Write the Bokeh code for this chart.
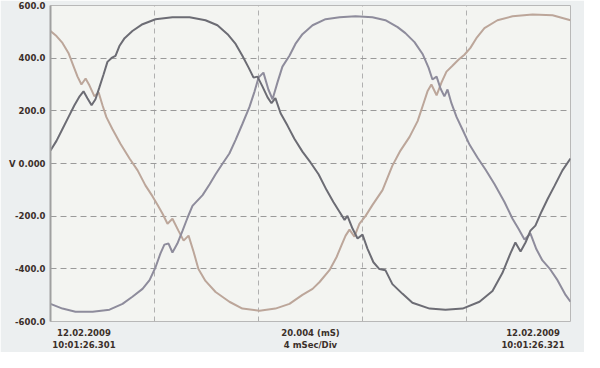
from bokeh.plotting import figure
from bokeh.models import Range1d, FixedTicker, LinearAxis
from bokeh.embed import file_html
from bokeh.resources import INLINE

# Time (ms) and voltage (V) samples
phase_a_t = [0, 0.23, 0.46, 0.69, 0.92, 1.12, 1.27, 1.42, 1.58, 1.73, 1.88, 2.04, 2.19, 2.35, 2.50,
             2.65, 2.85, 3.15, 3.54, 4.04, 4.69, 5.35, 5.96, 6.42, 6.81, 7.12, 7.38, 7.62, 7.81,
             7.96, 8.15, 8.35, 8.50, 8.65, 8.85, 9.12, 9.38, 9.69, 10.0, 10.31, 10.62, 10.88,
             11.12, 11.31, 11.42, 11.62, 11.81, 12.0, 12.19, 12.42, 12.65, 12.88, 13.15, 13.54,
             13.92, 14.58, 15.19, 15.85, 16.50, 17.0, 17.38, 17.69, 17.88, 18.08, 18.27, 18.46,
             18.65, 18.88, 19.12, 19.38, 19.69, 20.0]
phase_a_v = [49, 86, 131, 176, 221, 255, 274, 248, 221, 244, 289, 338, 386, 401, 409,
             446, 476, 503, 529, 548, 555, 555, 544, 525, 491, 454, 409, 364, 326,
             330, 293, 251, 229, 248, 191, 143, 94, 45, 4, -41, -101, -146,
             -184, -214, -199, -248, -285, -270, -323, -375, -401, -405, -458, -495,
             -529, -551, -555, -551, -525, -484, -416, -341, -300, -334, -300, -255,
             -236, -184, -135, -86, -26, 19]

phase_b_t = [0, 0.46, 0.96, 1.62, 2.27, 2.77, 3.15, 3.54, 3.81, 4.04, 4.23, 4.38, 4.54, 4.69,
             4.88, 5.08, 5.27, 5.46, 5.85, 6.12, 6.35, 6.62, 6.88, 7.12, 7.38, 7.65, 7.85, 8.0,
             8.19, 8.38, 8.54, 8.73, 8.92, 9.19, 9.42, 9.69, 10.08, 10.58, 11.12, 11.73, 12.38,
             12.88, 13.35, 13.65, 14.0, 14.31, 14.54, 14.69, 14.85, 15.0, 15.15, 15.27, 15.42,
             15.62, 15.85, 16.12, 16.42, 16.73, 17.08, 17.46, 17.77, 18.0, 18.23, 18.46, 18.69,
             18.92, 19.19, 19.5, 19.81, 20.0]
phase_b_v = [-533, -551, -563, -563, -555, -533, -506, -476, -443, -394, -341, -308, -304, -338,
             -304, -255, -206, -161, -120, -79, -41, 0, 38, 90, 150, 214, 274, 326,
             345, 281, 244, 308, 368, 409, 454, 491, 525, 548, 555, 559, 555,
             544, 518, 495, 461, 416, 364, 319, 330, 285, 255, 281, 229,
             176, 128, 71, 23, -23, -79, -146, -210, -248, -289, -266, -326,
             -368, -398, -443, -499, -525]

phase_c_t = [0, 0.23, 0.46, 0.69, 0.88, 1.04, 1.19, 1.35, 1.5, 1.69, 1.85, 2.0, 2.15, 2.38, 2.69,
             3.04, 3.35, 3.65, 3.92, 4.12, 4.31, 4.5, 4.69, 4.92, 5.12, 5.31, 5.5, 5.69, 5.96,
             6.35, 6.88, 7.38, 8.04, 8.65, 9.19, 9.69, 10.08, 10.35, 10.73, 11.0, 11.19, 11.35,
             11.5, 11.69, 11.88, 12.12, 12.38, 12.77, 13.15, 13.46, 13.81, 14.12, 14.35, 14.5,
             14.65, 14.85, 15.04, 15.23, 15.46, 15.69, 15.92, 16.15, 16.38, 16.69, 17.19, 17.77,
             18.54, 19.31, 20.0]
phase_c_v = [503, 484, 458, 420, 371, 330, 300, 323, 296, 255, 270, 221, 176, 131, 75,
             19, -26, -83, -124, -158, -191, -229, -210, -255, -293, -274, -334, -401, -446,
             -488, -525, -551, -559, -551, -533, -499, -476, -450, -405, -356, -311, -274,
             -251, -278, -229, -199, -158, -101, -8, 49, 101, 161, 229, 274,
             300, 259, 308, 349, 371, 394, 413, 439, 476, 514, 544, 559,
             566, 563, 544]

y_ticks = [-600, -400, -200, 0, 200, 400, 600]
y_tick_labels = ["-600.0", "-400.0", "-200.0", "V 0.000", "200.0", "400.0", "600.0"]
x_grid = [4, 8, 12, 16]

stamp_row1 = ["12.02.2009", "20.004 (mS)", "12.02.2009"]
stamp_row2 = ["10:01:26.301", "4 mSec/Div", "10:01:26.321"]

W, H = 584, 352
BL, BR, BT, BB = 50, 14, 5, 0
FW = W - BL - BR
X0, X1 = 0, 20
FONT = "DejaVu Sans"
FS = 8.5


def text_w(s):
    # approximate DejaVu Sans Bold advance widths (em)
    w = 0.0
    for ch in s:
        if ch.isdigit():
            w += 0.696
        elif ch in ".:":
            w += 0.38
        elif ch == " ":
            w += 0.348
        elif ch in "()":
            w += 0.457
        elif ch == "/":
            w += 0.365
        elif ch.isupper():
            w += 0.77
        else:
            w += 0.62
    return w * FS


blocks = [a + "\n" + b for a, b in zip(stamp_row1, stamp_row2)]
px_per = FW / (X1 - X0)
wl = max(text_w(stamp_row1[0]), text_w(stamp_row2[0]))
wr = max(text_w(stamp_row1[2]), text_w(stamp_row2[2]))
stamp_pos = [round(X0 + (2 + wl / 2) / px_per, 4), (X0 + X1) / 2,
             round(X1 - (6 + wr / 2) / px_per, 4)]

p = figure(width=W, height=H, output_backend="svg", toolbar_location=None,
           x_range=Range1d(X0, X1), y_range=Range1d(-600, 600),
           min_border_left=BL, min_border_right=BR, min_border_top=BT, min_border_bottom=BB,
           x_axis_location=None)

p.background_fill_color = "#f3f4f1"
p.border_fill_color = "#eceff0"
p.outline_line_color = "#b8b8b8"

ax = p.yaxis[0]
ax.ticker = FixedTicker(ticks=y_ticks)
ax.major_label_overrides = {t: s for t, s in zip(y_ticks, y_tick_labels)}
ax.axis_line_color = "#a0a0a0"
ax.axis_line_width = 2
ax.major_tick_line_color = None
ax.minor_tick_line_color = None
ax.major_tick_out = 0
ax.major_tick_in = 0
ax.major_label_text_font = FONT
ax.major_label_text_font_style = "bold"
ax.major_label_text_font_size = f"{FS}px"
ax.major_label_text_color = "#3b2f2a"
ax.major_label_standoff = 5

a = LinearAxis(ticker=FixedTicker(ticks=stamp_pos),
               major_label_overrides={t: s for t, s in zip(stamp_pos, blocks)})
a.axis_line_color = None
a.major_tick_line_color = None
a.minor_tick_line_color = None
a.major_tick_out = 0
a.major_tick_in = 0
a.axis_label_standoff = 0
a.major_label_text_font = FONT
a.major_label_text_font_style = "bold"
a.major_label_text_font_size = f"{FS}px"
a.major_label_text_color = "#3b2f2a"
a.major_label_text_line_height = 1.2
a.major_label_standoff = 6
p.add_layout(a, "below")

p.ygrid.ticker = FixedTicker(ticks=y_ticks)
p.ygrid.grid_line_color = "#9a9a9a"
p.ygrid.grid_line_dash = "6 4"
p.ygrid.grid_line_width = 1
p.xgrid.ticker = FixedTicker(ticks=x_grid)
p.xgrid.grid_line_color = "#b0b0b0"
p.xgrid.grid_line_dash = "5 4"
p.xgrid.grid_line_width = 1

p.line(phase_c_t, phase_c_v, line_color="#bca69a", line_width=2)
p.line(phase_b_t, phase_b_v, line_color="#8e8c9c", line_width=2)
p.line(phase_a_t, phase_a_v, line_color="#6c6c74", line_width=2)

open("out.html", "w").write(file_html(p, INLINE))
